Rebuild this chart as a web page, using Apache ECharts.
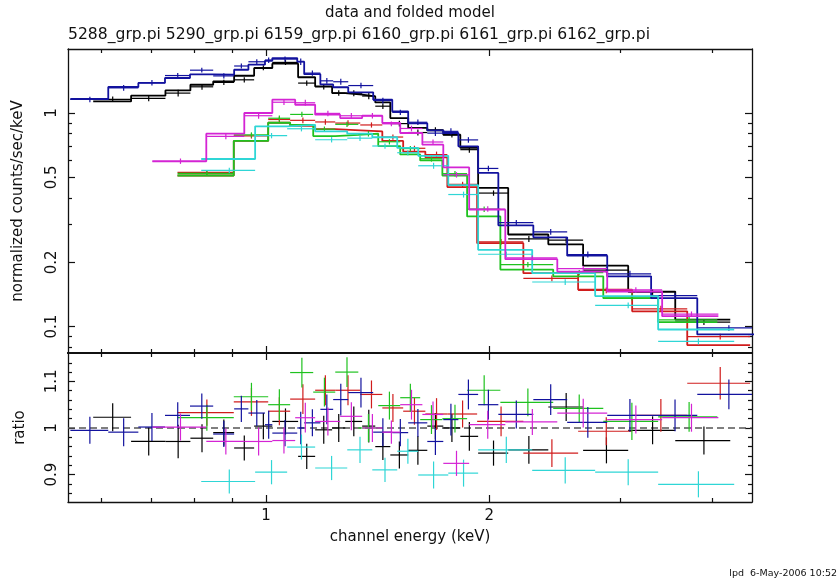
<!DOCTYPE html>
<html>
<head>
<meta charset="utf-8">
<script src="https://cdn.jsdelivr.net/npm/echarts@6/dist/echarts.min.js"></script>
<style>
  html, body { margin: 0; padding: 0; background: #ffffff; }
  #chart { width: 838px; height: 582px; }
</style>
</head>
<body>
<div id="chart"></div>
<script>
// Spectral files and their plot colours
const files = ['5288_grp.pi', '5290_grp.pi', '6159_grp.pi', '6160_grp.pi', '6161_grp.pi', '6162_grp.pi'];
const colors = ['#000000', '#d01c1c', '#1fc21f', '#12129e', '#2fd6d6', '#d424d4'];

// Per file: channel-group edges (keV), folded model (counts/s/keV),
// data/model ratio and 1-sigma error on the ratio.
const edges5288 = [0.585, 0.658, 0.732, 0.791, 0.849, 0.906, 0.964, 1.020, 1.105, 1.165, 1.228, 1.279, 1.348, 1.404, 1.471, 1.555, 1.650, 1.734, 1.828, 1.932, 2.121, 2.402, 2.676, 3.078, 3.562, 4.225];
const model5288 = [1.133, 1.205, 1.276, 1.356, 1.405, 1.494, 1.623, 1.701, 1.47, 1.332, 1.24, 1.22, 1.196, 1.121, 0.947, 0.851, 0.83, 0.791, 0.686, 0.446, 0.27, 0.243, 0.193, 0.146, 0.108];
const ratio5288 = [1.023, 0.971, 0.971, 0.978, 0.990, 0.957, 1.004, 1.014, 0.939, 0.996, 1.000, 1.014, 1.004, 0.960, 0.942, 0.952, 1.004, 1.000, 0.982, 0.946, 0.953, 1.045, 0.952, 0.995, 0.973];
const err5288 = [0.030, 0.030, 0.036, 0.030, 0.028, 0.027, 0.028, 0.028, 0.027, 0.030, 0.030, 0.032, 0.035, 0.029, 0.029, 0.031, 0.028, 0.030, 0.031, 0.027, 0.030, 0.030, 0.028, 0.030, 0.030];

const edges5290 = [0.760, 0.905, 1.007, 1.078, 1.165, 1.240, 1.340, 1.435, 1.531, 1.640, 1.756, 1.926, 2.223, 2.635, 3.116, 3.697, 4.494];
const model5290 = [0.51, 0.74, 0.90, 0.87, 0.84, 0.83, 0.82, 0.74, 0.66, 0.62, 0.45, 0.246, 0.178, 0.149, 0.118, 0.082];
const ratio5290 = [1.033, 1.056, 1.036, 1.062, 1.081, 1.081, 1.072, 1.043, 1.036, 1.030, 1.030, 1.014, 0.946, 0.993, 1.027, 1.096];
const err5290 = [0.028, 0.030, 0.030, 0.032, 0.032, 0.032, 0.030, 0.030, 0.029, 0.034, 0.029, 0.032, 0.030, 0.030, 0.035, 0.035];

const edges6159 = [0.760, 0.905, 1.007, 1.078, 1.158, 1.240, 1.332, 1.417, 1.517, 1.614, 1.729, 1.867, 2.070, 2.439, 2.849, 3.378, 4.059];
const model6159 = [0.51, 0.74, 0.90, 0.88, 0.78, 0.79, 0.80, 0.70, 0.64, 0.60, 0.51, 0.328, 0.185, 0.172, 0.136, 0.105];
const ratio6159 = [1.022, 1.067, 1.050, 1.119, 1.077, 1.120, 1.000, 1.048, 1.065, 1.018, 1.020, 1.081, 1.055, 1.042, 1.014, 1.024];
const err6159 = [0.028, 0.030, 0.033, 0.032, 0.031, 0.032, 0.030, 0.030, 0.030, 0.031, 0.030, 0.032, 0.030, 0.030, 0.040, 0.032];

const edges6160 = [0.545, 0.613, 0.673, 0.731, 0.790, 0.849, 0.906, 0.947, 0.997, 1.020, 1.102, 1.126, 1.184, 1.232, 1.291, 1.395, 1.480, 1.555, 1.650, 1.734, 1.817, 1.932, 2.057, 2.293, 2.547, 2.884, 3.305, 3.814, 4.60];
const model6160 = [1.163, 1.323, 1.382, 1.458, 1.515, 1.511, 1.594, 1.683, 1.756, 1.807, 1.739, 1.52, 1.36, 1.32, 1.249, 1.154, 1.017, 0.895, 0.829, 0.806, 0.698, 0.524, 0.298, 0.262, 0.215, 0.172, 0.136, 0.092];
const ratio6160 = [0.995, 0.991, 1.002, 1.027, 1.047, 0.987, 1.041, 1.032, 1.007, 0.989, 1.000, 1.011, 1.040, 1.061, 1.076, 0.991, 0.990, 1.011, 0.971, 1.018, 1.072, 1.050, 1.029, 1.061, 1.012, 1.027, 1.027, 1.072];
const err6160 = [0.029, 0.030, 0.030, 0.028, 0.027, 0.028, 0.028, 0.028, 0.030, 0.028, 0.035, 0.029, 0.032, 0.034, 0.032, 0.030, 0.029, 0.030, 0.029, 0.034, 0.032, 0.032, 0.030, 0.033, 0.033, 0.035, 0.034, 0.032];

const edges6161 = [0.818, 0.967, 1.068, 1.165, 1.287, 1.391, 1.503, 1.604, 1.761, 1.932, 2.285, 2.778, 3.378, 4.277];
const model6161 = [0.609, 0.866, 0.88, 0.82, 0.80, 0.77, 0.686, 0.63, 0.46, 0.229, 0.178, 0.139, 0.097];
const ratio6161 = [0.885, 0.905, 0.959, 0.914, 0.953, 0.910, 0.950, 0.899, 0.903, 0.953, 0.909, 0.905, 0.879];
const err6161 = [0.026, 0.026, 0.027, 0.026, 0.028, 0.026, 0.027, 0.029, 0.029, 0.028, 0.028, 0.028, 0.028];

const edges6162 = [0.703, 0.831, 0.935, 1.020, 1.095, 1.165, 1.259, 1.348, 1.435, 1.517, 1.625, 1.734, 1.879, 2.102, 2.470, 2.884, 3.420, 4.072];
const model6162 = [0.594, 0.800, 1.000, 1.154, 1.093, 0.982, 0.947, 0.971, 0.898, 0.806, 0.711, 0.556, 0.353, 0.207, 0.181, 0.146, 0.112];
const ratio6162 = [1.002, 0.971, 0.971, 0.973, 1.022, 1.014, 1.025, 1.000, 0.991, 1.050, 1.029, 0.924, 1.007, 1.013, 1.032, 1.018, 1.022];
const err6162 = [0.029, 0.028, 0.030, 0.028, 0.032, 0.030, 0.030, 0.030, 0.025, 0.032, 0.028, 0.027, 0.030, 0.028, 0.031, 0.030, 0.030];

// Axis ranges and tick positions
const X_MIN = 0.541, X_MAX = 4.52;
const Y_MIN = 0.0753, Y_MAX = 1.993;
const R_MIN = 0.841, R_MAX = 1.161;
const xMajorTicks = [1, 2];
const xMinorTicks = [0.6, 0.7, 0.8, 0.9, 3, 4];
const xTickLabels = [1, 2];
const yMajorTicks = [0.1, 0.2, 0.5, 1];
const yMinorTicks = [0.08, 0.09, 0.3, 0.4, 0.6, 0.7, 0.8, 0.9];
const yTickLabels = [0.1, 0.2, 0.5, 1];
const rMajorTicks = [0.9, 1, 1.1];
const rMinorTicks = [0.86, 0.88, 0.92, 0.94, 0.96, 0.98, 1.02, 1.04, 1.06, 1.08, 1.12, 1.14];
const rTickLabels = [0.9, 1, 1.1];
const refLine = [[X_MIN, 1], [X_MAX, 1]];

const FONT = 'DejaVu Sans';
const spectra = [
  { edges: edges5288, model: model5288, ratio: ratio5288, err: err5288 },
  { edges: edges5290, model: model5290, ratio: ratio5290, err: err5290 },
  { edges: edges6159, model: model6159, ratio: ratio6159, err: err6159 },
  { edges: edges6160, model: model6160, ratio: ratio6160, err: err6160 },
  { edges: edges6161, model: model6161, ratio: ratio6161, err: err6161 },
  { edges: edges6162, model: model6162, ratio: ratio6162, err: err6162 }
];

function fmt(v) { return String(+Number(v).toPrecision(3)); }

function xAxisDef(grid, pos, ticks, len, labels, lineW, extra) {
  return Object.assign({
    type: 'log', logBase: 10, gridIndex: grid, position: pos, min: X_MIN, max: X_MAX,
    axisLine: { show: lineW > 0, onZero: false, lineStyle: { color: '#111', width: lineW } },
    axisTick: { show: true, inside: true, length: len, customValues: ticks, lineStyle: { color: '#111', width: 1.2 } },
    axisLabel: labels ? { show: true, customValues: labels, formatter: fmt, margin: 7,
      fontFamily: FONT, fontSize: 15, color: '#111' } : { show: false },
    splitLine: { show: false }, minorTick: { show: false }
  }, extra || {});
}

function yAxisDef(grid, pos, type, mn, mx, ticks, len, labels, lineW, extra) {
  return Object.assign({
    type: type, logBase: 10, gridIndex: grid, position: pos, min: mn, max: mx,
    axisLine: { show: lineW > 0, onZero: false, lineStyle: { color: '#111', width: lineW } },
    axisTick: { show: true, inside: true, length: len, customValues: ticks, lineStyle: { color: '#111', width: 1.2 } },
    axisLabel: labels ? { show: true, customValues: labels, formatter: fmt, rotate: 90, margin: 8,
      fontFamily: FONT, fontSize: 15, color: '#111' } : { show: false },
    splitLine: { show: false }, minorTick: { show: false }
  }, extra || {});
}

const xAxes = [
  xAxisDef(0, 'bottom', xMajorTicks, 7, null, 2),
  xAxisDef(0, 'bottom', xMinorTicks, 4, null, 0),
  xAxisDef(0, 'top', xMajorTicks, 7, null, 1.3),
  xAxisDef(0, 'top', xMinorTicks, 4, null, 0),
  xAxisDef(1, 'bottom', xMajorTicks, 7, xTickLabels, 1.3, {
    name: 'channel energy (keV)', nameLocation: 'middle', nameGap: 28,
    nameTextStyle: { fontFamily: FONT, fontSize: 15, color: '#111' } }),
  xAxisDef(1, 'bottom', xMinorTicks, 4, null, 0),
  xAxisDef(1, 'top', xMajorTicks, 7, null, 2),
  xAxisDef(1, 'top', xMinorTicks, 4, null, 0)
];

const yAxes = [
  yAxisDef(0, 'left', 'log', Y_MIN, Y_MAX, yMajorTicks, 7, yTickLabels, 1.3, {
    name: 'normalized counts/sec/keV', nameLocation: 'middle', nameGap: 42, nameRotate: 90,
    nameTextStyle: { fontFamily: FONT, fontSize: 15, color: '#111' } }),
  yAxisDef(0, 'left', 'log', Y_MIN, Y_MAX, yMinorTicks, 4, null, 0),
  yAxisDef(0, 'right', 'log', Y_MIN, Y_MAX, yMajorTicks, 7, null, 1.3),
  yAxisDef(0, 'right', 'log', Y_MIN, Y_MAX, yMinorTicks, 4, null, 0),
  yAxisDef(1, 'left', 'value', R_MIN, R_MAX, rMajorTicks, 7, rTickLabels, 1.3, {
    name: 'ratio', nameLocation: 'middle', nameGap: 40, nameRotate: 90,
    nameTextStyle: { fontFamily: FONT, fontSize: 15, color: '#111' } }),
  yAxisDef(1, 'left', 'value', R_MIN, R_MAX, rMinorTicks, 4, null, 0),
  yAxisDef(1, 'right', 'value', R_MIN, R_MAX, rMajorTicks, 7, null, 1.3),
  yAxisDef(1, 'right', 'value', R_MIN, R_MAX, rMinorTicks, 4, null, 0)
];

// Horizontal bar over the channel group, vertical bar over the error
function renderCross(params, api) {
  const lo = api.value(0), hi = api.value(1), y = api.value(2), e = api.value(3);
  const mid = (lo + hi) / 2;
  const a = api.coord([lo, y]), b = api.coord([hi, y]);
  const c = api.coord([mid, y - e]), d = api.coord([mid, y + e]);
  const st = { stroke: api.visual('color'), lineWidth: 1.2 };
  return {
    type: 'group',
    children: [
      { type: 'line', shape: { x1: a[0], y1: a[1], x2: b[0], y2: b[1] }, style: st },
      { type: 'line', shape: { x1: c[0], y1: c[1], x2: d[0], y2: d[1] }, style: st }
    ]
  };
}

function stepData(edges, vals) {
  const pts = vals.map((v, i) => [edges[i], v]);
  pts.push([edges[edges.length - 1], vals[vals.length - 1]]);
  return pts;
}

const series = [{
  type: 'line', xAxisIndex: 4, yAxisIndex: 4, data: refLine, showSymbol: false, silent: true,
  lineStyle: { color: '#555', width: 1.6, type: [7, 4] }, z: 1
}];

spectra.forEach((s, k) => {
  const col = colors[k];
  const data = s.model.map((m, i) => m * s.ratio[i]);
  const dErr = s.model.map((m, i) => m * s.err[i]);
  // folded model histogram
  series.push({ type: 'line', name: files[k], xAxisIndex: 0, yAxisIndex: 0, step: 'end',
    data: stepData(s.edges, s.model), showSymbol: false, color: col,
    lineStyle: { color: col, width: 1.8 }, z: 2 + k });
  // data points with errors
  series.push({ type: 'custom', xAxisIndex: 0, yAxisIndex: 0, clip: true, color: col,
    renderItem: renderCross, encode: { x: [0, 1], y: 2 },
    data: s.model.map((m, i) => [s.edges[i], s.edges[i + 1], data[i], dErr[i]]), z: 2 + k });
  // ratio points with errors
  series.push({ type: 'custom', xAxisIndex: 4, yAxisIndex: 4, clip: true, color: col,
    renderItem: renderCross, encode: { x: [0, 1], y: 2 },
    data: s.ratio.map((r, i) => [s.edges[i], s.edges[i + 1], r, s.err[i]]), z: 2 + k });
});

const chart = echarts.init(document.getElementById('chart'), null, { renderer: 'canvas' });
chart.setOption({
  animation: false,
  backgroundColor: '#ffffff',
  title: [
    { text: 'data and folded model', left: 410, top: 6, textAlign: 'center', padding: 0,
      textStyle: { fontFamily: FONT, fontSize: 15, fontWeight: 'normal', color: '#111' } },
    { text: files.join(' '), left: 68, top: 27, padding: 0,
      textStyle: { fontFamily: FONT, fontSize: 15.6, fontWeight: 'normal', color: '#111' } },
    { text: 'lpd  6-May-2006 10:52', right: 1, bottom: 3, padding: 0,
      textStyle: { fontFamily: FONT, fontSize: 9.5, fontWeight: 'normal', color: '#111' } }
  ],
  grid: [
    { left: 68, top: 49, width: 684, height: 304 },
    { left: 68, top: 353, width: 684, height: 149 }
  ],
  xAxis: xAxes,
  yAxis: yAxes,
  series: series
});
</script>
</body>
</html>
